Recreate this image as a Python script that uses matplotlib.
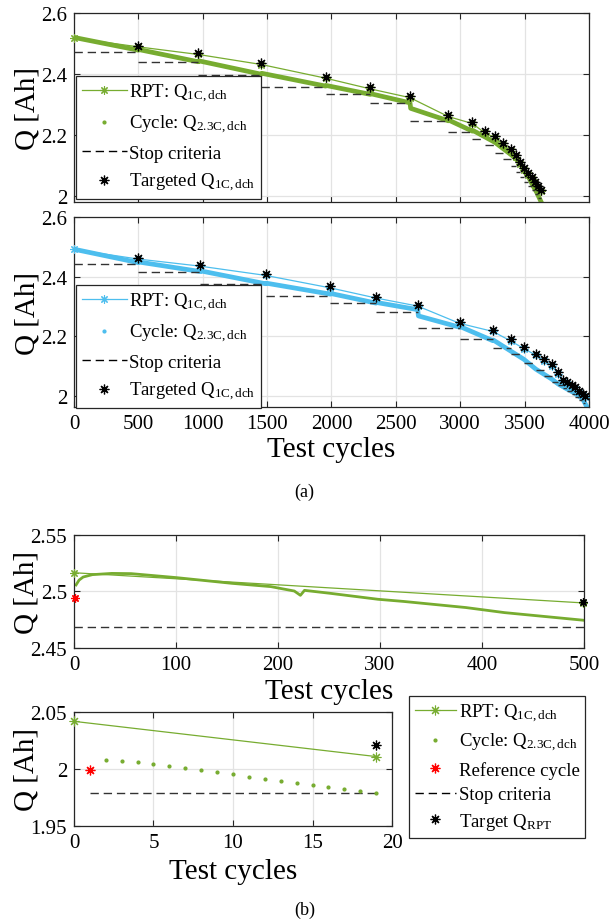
import matplotlib
matplotlib.use('Agg')
import matplotlib.pyplot as plt
from matplotlib.lines import Line2D
from matplotlib.ticker import FuncFormatter

plt.rcParams['font.family'] = ['Liberation Serif', 'DejaVu Serif']
plt.rcParams['mathtext.fontset'] = 'custom'
plt.rcParams['mathtext.rm'] = 'Liberation Serif'
plt.rcParams['mathtext.it'] = 'Liberation Serif:italic'

# ---- panel (a), green cell ----
rptXG = [0, 500, 965, 1455, 1955, 2300, 2610, 2907, 3094, 3192, 3270, 3335, 3392, 3431,
         3464, 3498, 3529, 3555, 3581, 3606, 3627]
rptQG = [2.518, 2.489, 2.464, 2.431, 2.386, 2.351, 2.322, 2.260, 2.237, 2.206, 2.190,
         2.168, 2.147, 2.127, 2.105, 2.085, 2.069, 2.056, 2.039, 2.026, 2.015]
targetQG = [2.493, 2.469, 2.437, 2.391, 2.356, 2.327, 2.264, 2.242, 2.211, 2.195, 2.173,
            2.152, 2.132, 2.110, 2.090, 2.074, 2.061, 2.044, 2.031, 2.020]
stopQG = [2.473, 2.438, 2.398, 2.358, 2.333, 2.303, 2.244, 2.209, 2.185, 2.167, 2.141,
          2.121, 2.099, 2.078, 2.060, 2.046, 2.032, 2.018, 2.005, 1.993]
cycXG = [0, 500, 505, 965, 970, 1455, 1460, 1955, 1960, 2300, 2305, 2610, 2615, 2907,
         2912, 3094, 3100, 3192, 3270, 3335, 3400, 3464, 3500, 3530, 3562, 3595, 3630]
cycQG = [2.520, 2.478, 2.480, 2.440, 2.443, 2.399, 2.402, 2.360, 2.362, 2.333, 2.335,
         2.305, 2.287, 2.246, 2.248, 2.212, 2.214, 2.193, 2.175, 2.154, 2.133, 2.108,
         2.080, 2.062, 2.035, 2.010, 1.978]

# ---- panel (a), blue cell ----
rptXB = [0, 498, 981, 1488, 1992, 2346, 2670, 2995, 3252, 3392, 3495, 3588, 3651, 3710,
         3762, 3801, 3832, 3866, 3891, 3922, 3951, 3969]
rptQB = [2.491, 2.459, 2.435, 2.404, 2.362, 2.328, 2.301, 2.243, 2.216, 2.184, 2.158,
         2.136, 2.117, 2.101, 2.073, 2.048, 2.040, 2.032, 2.023, 2.012, 2.001, 1.995]
targetQB = [2.463, 2.439, 2.409, 2.367, 2.333, 2.306, 2.248, 2.221, 2.189, 2.163, 2.141,
            2.122, 2.106, 2.078, 2.053, 2.045, 2.037, 2.028, 2.017, 2.006, 2.000]
stopQB = [2.442, 2.414, 2.374, 2.336, 2.311, 2.280, 2.228, 2.189, 2.159, 2.139, 2.109,
          2.087, 2.067, 2.047, 2.035, 2.025, 2.015, 2.005, 1.995, 1.985, 1.975]
cycXB = [0, 498, 503, 981, 986, 1488, 1493, 1992, 1997, 2346, 2351, 2670, 2675, 2995,
         3000, 3252, 3257, 3392, 3495, 3588, 3651, 3710, 3762, 3832, 3891, 3951, 3985]
cycQB = [2.492, 2.447, 2.449, 2.417, 2.419, 2.376, 2.378, 2.341, 2.343, 2.311, 2.313,
         2.289, 2.268, 2.230, 2.232, 2.185, 2.187, 2.150, 2.122, 2.089, 2.072, 2.056,
         2.039, 2.022, 2.008, 1.989, 1.962]

# ---- panel (b), first 500 cycles ----
rptXFirst = [0, 499]
rptQFirst = [2.5166, 2.4899]
targetFirst = (499, 2.4904)
refFirst = (1, 2.4939)
stopFirst = 2.4688
cycXFirst = [2, 5, 9, 18, 37, 56, 100, 155, 193, 216, 222, 226, 251, 298, 323, 384, 422, 500]
cycQFirst = [2.5058, 2.5101, 2.5128, 2.5149, 2.5160, 2.5158, 2.5123, 2.5072, 2.5043,
             2.5004, 2.4966, 2.5010, 2.4984, 2.4931, 2.4912, 2.4858, 2.4813, 2.4745]

# ---- panel (b), last 20 cycles ----
rptXLast = [0, 19]
rptQLast = [2.0418, 2.0109]
targetLast = (19, 2.0212)
refLast = (1, 1.9990)
stopLast = 1.9788
cycXLast = list(range(2, 20))
cycQLast = [2.0079, 2.0074, 2.0059, 2.0044, 2.0024, 2.0009, 1.9991, 1.9971, 1.9953,
            1.9932, 1.9915, 1.9897, 1.9876, 1.9859, 1.9841, 1.9824, 1.9809, 1.9788]

GREEN = '#77AC30'
BLUE = '#4DBEEE'
AST = (8, 2, 0)
TICK = 15
LABEL = 21
LEG = 13.5


def styleAxes(ax):
    ax.grid(True, color='#e3e3e3', linewidth=0.9)
    ax.set_axisbelow(True)
    for s in ax.spines.values():
        s.set_color('#262626')
        s.set_linewidth(0.9)
    ax.tick_params(direction='in', top=True, right=True, length=4, width=0.8,
                   labelsize=TICK, colors='#262626', labelcolor='black', pad=5)
    ax.yaxis.set_major_formatter(FuncFormatter(lambda v, p: '%g' % v))


def legendStyle(leg):
    f = leg.get_frame()
    f.set_edgecolor('#262626')
    f.set_linewidth(0.9)
    f.set_boxstyle('square', pad=0)


def drawLong(ax, rptX, rptQ, targetQ, stopQ, cycX, cycQ, color):
    ax.plot(cycX, cycQ, color=color, linewidth=3.4, solid_joinstyle='round', zorder=2)
    for i in range(len(stopQ)):
        ax.plot([rptX[i], rptX[i + 1]], [stopQ[i], stopQ[i]], color='#333333',
                linewidth=1.0, dashes=(6, 3.5), zorder=3)
    ax.plot(rptX, rptQ, color=color, linewidth=0.9, marker=AST, markersize=6,
            markeredgewidth=0.8, zorder=4, clip_on=False)
    ax.plot(rptX[1:], targetQ, linestyle='none', color='black', marker=AST,
            markersize=7, markeredgewidth=0.9, zorder=5)
    handles = [
        Line2D([], [], color=color, linewidth=0.9, marker=AST, markersize=6, markeredgewidth=0.8),
        Line2D([], [], color=color, linestyle='none', marker='.', markersize=4),
        Line2D([], [], color='black', linewidth=1.0, dashes=(6, 3.5)),
        Line2D([], [], color='black', linestyle='none', marker=AST, markersize=7, markeredgewidth=0.9),
    ]
    labels = ['RPT: Q$_{\\mathrm{1C,dch}}$', 'Cycle: Q$_{\\mathrm{2.3C,dch}}$',
              'Stop criteria', 'Targeted Q$_{\\mathrm{1C,dch}}$']
    return handles, labels


fig = plt.figure(figsize=(6.09, 9.2), dpi=100)

axTop = fig.add_axes([0.1215, 0.7793, 0.8456, 0.2054])
axBot = fig.add_axes([0.1215, 0.5565, 0.8456, 0.2065])
axFirst = fig.add_axes([0.1215, 0.2946, 0.8374, 0.1228])
axLast = fig.add_axes([0.1215, 0.1011, 0.5222, 0.1239])

for ax, data, color in [(axTop, (rptXG, rptQG, targetQG, stopQG, cycXG, cycQG), GREEN),
                        (axBot, (rptXB, rptQB, targetQB, stopQB, cycXB, cycQB), BLUE)]:
    styleAxes(ax)
    h, l = drawLong(ax, *data, color)
    ax.set_xlim(0, 4000)
    ax.set_xticks(range(0, 4001, 500))
    ax.set_yticks([2, 2.2, 2.4, 2.6])
    ax.set_ylabel('Q [Ah]', fontsize=LABEL)
    ax.yaxis.set_label_coords(-0.066, 0.5)
    leg = ax.legend(h, l, loc='upper left', fontsize=LEG, handlelength=2.4,
                    handletextpad=0.15, borderpad=0.3, labelspacing=0.5,
                    fancybox=False, framealpha=1, borderaxespad=0)
    legendStyle(leg)

axTop.set_ylim(1.979, 2.6)
axTop.tick_params(labelbottom=False)
axTop.get_legend().set_bbox_to_anchor((0.004, 0.667), transform=axTop.transAxes)
axBot.set_ylim(1.962, 2.6)
axBot.get_legend().set_bbox_to_anchor((0.004, 0.642), transform=axBot.transAxes)
axBot.set_xlabel('Test cycles', fontsize=LABEL)
axBot.xaxis.set_label_coords(0.5, -0.15)

# first 500 cycles
styleAxes(axFirst)
axFirst.plot(cycXFirst, cycQFirst, color=GREEN, linewidth=2.0, zorder=2)
axFirst.plot([0, 500], [stopFirst, stopFirst], color='#333333', linewidth=1.0,
             dashes=(6, 3.5), zorder=3)
axFirst.plot(rptXFirst, rptQFirst, color=GREEN, linewidth=0.9, marker=AST,
             markersize=6, markeredgewidth=0.8, zorder=4, clip_on=False)
axFirst.plot([refFirst[0]], [refFirst[1]], linestyle='none', color='red', marker=AST,
             markersize=6, markeredgewidth=0.9, zorder=5, clip_on=False)
axFirst.plot([targetFirst[0]], [targetFirst[1]], linestyle='none', color='black',
             marker=AST, markersize=6, markeredgewidth=0.9, zorder=5, clip_on=False)
axFirst.set_xlim(0, 500)
axFirst.set_ylim(2.45, 2.55)
axFirst.set_yticks([2.45, 2.5, 2.55])
axFirst.set_ylabel('Q [Ah]', fontsize=LABEL)
axFirst.yaxis.set_label_coords(-0.067, 0.5)
axFirst.set_xlabel('Test cycles', fontsize=LABEL)
axFirst.xaxis.set_label_coords(0.5, -0.27)

# last 20 cycles
styleAxes(axLast)
axLast.plot([1, 19], [stopLast, stopLast], color='#333333', linewidth=1.0,
            dashes=(6, 3.5), zorder=3)
axLast.plot(cycXLast, cycQLast, linestyle='none', color=GREEN, marker='.',
            markersize=4, zorder=3)
axLast.plot(rptXLast, rptQLast, color=GREEN, linewidth=0.9, marker=AST,
            markersize=7, markeredgewidth=0.8, zorder=4, clip_on=False)
axLast.plot([refLast[0]], [refLast[1]], linestyle='none', color='red', marker=AST,
            markersize=7, markeredgewidth=0.9, zorder=5)
axLast.plot([targetLast[0]], [targetLast[1]], linestyle='none', color='black',
            marker=AST, markersize=7, markeredgewidth=0.9, zorder=5)
axLast.set_xlim(0, 20)
axLast.set_xticks([0, 5, 10, 15, 20])
axLast.set_ylim(1.95, 2.05)
axLast.set_yticks([1.95, 2, 2.05])
axLast.set_ylabel('Q [Ah]', fontsize=LABEL)
axLast.yaxis.set_label_coords(-0.107, 0.5)
axLast.set_xlabel('Test cycles', fontsize=LABEL)
axLast.xaxis.set_label_coords(0.5, -0.28)

handlesB = [
    Line2D([], [], color=GREEN, linewidth=0.9, marker=AST, markersize=7, markeredgewidth=0.8),
    Line2D([], [], color=GREEN, linestyle='none', marker='.', markersize=4),
    Line2D([], [], color='red', linestyle='none', marker=AST, markersize=7, markeredgewidth=0.9),
    Line2D([], [], color='black', linewidth=1.0, dashes=(6, 3.5)),
    Line2D([], [], color='black', linestyle='none', marker=AST, markersize=7, markeredgewidth=0.9),
]
labelsB = ['RPT: Q$_{\\mathrm{1C,dch}}$', 'Cycle: Q$_{\\mathrm{2.3C,dch}}$',
           'Reference cycle', 'Stop criteria', 'Target Q$_{\\mathrm{RPT}}$']
legB = fig.legend(handlesB, labelsB, loc='upper left', bbox_to_anchor=(0.6716, 0.2424),
                  fontsize=LEG, handlelength=2.2, handletextpad=0.15, borderpad=0.3,
                  labelspacing=0.4, fancybox=False, framealpha=1, borderaxespad=0)
legendStyle(legB)

fig.text(0.5, 1 - 492 / 920, '(a)', ha='center', va='center', fontsize=13)
fig.text(0.5, 1 - 910 / 920, '(b)', ha='center', va='center', fontsize=13)

fig.savefig('out.png', dpi=100)
